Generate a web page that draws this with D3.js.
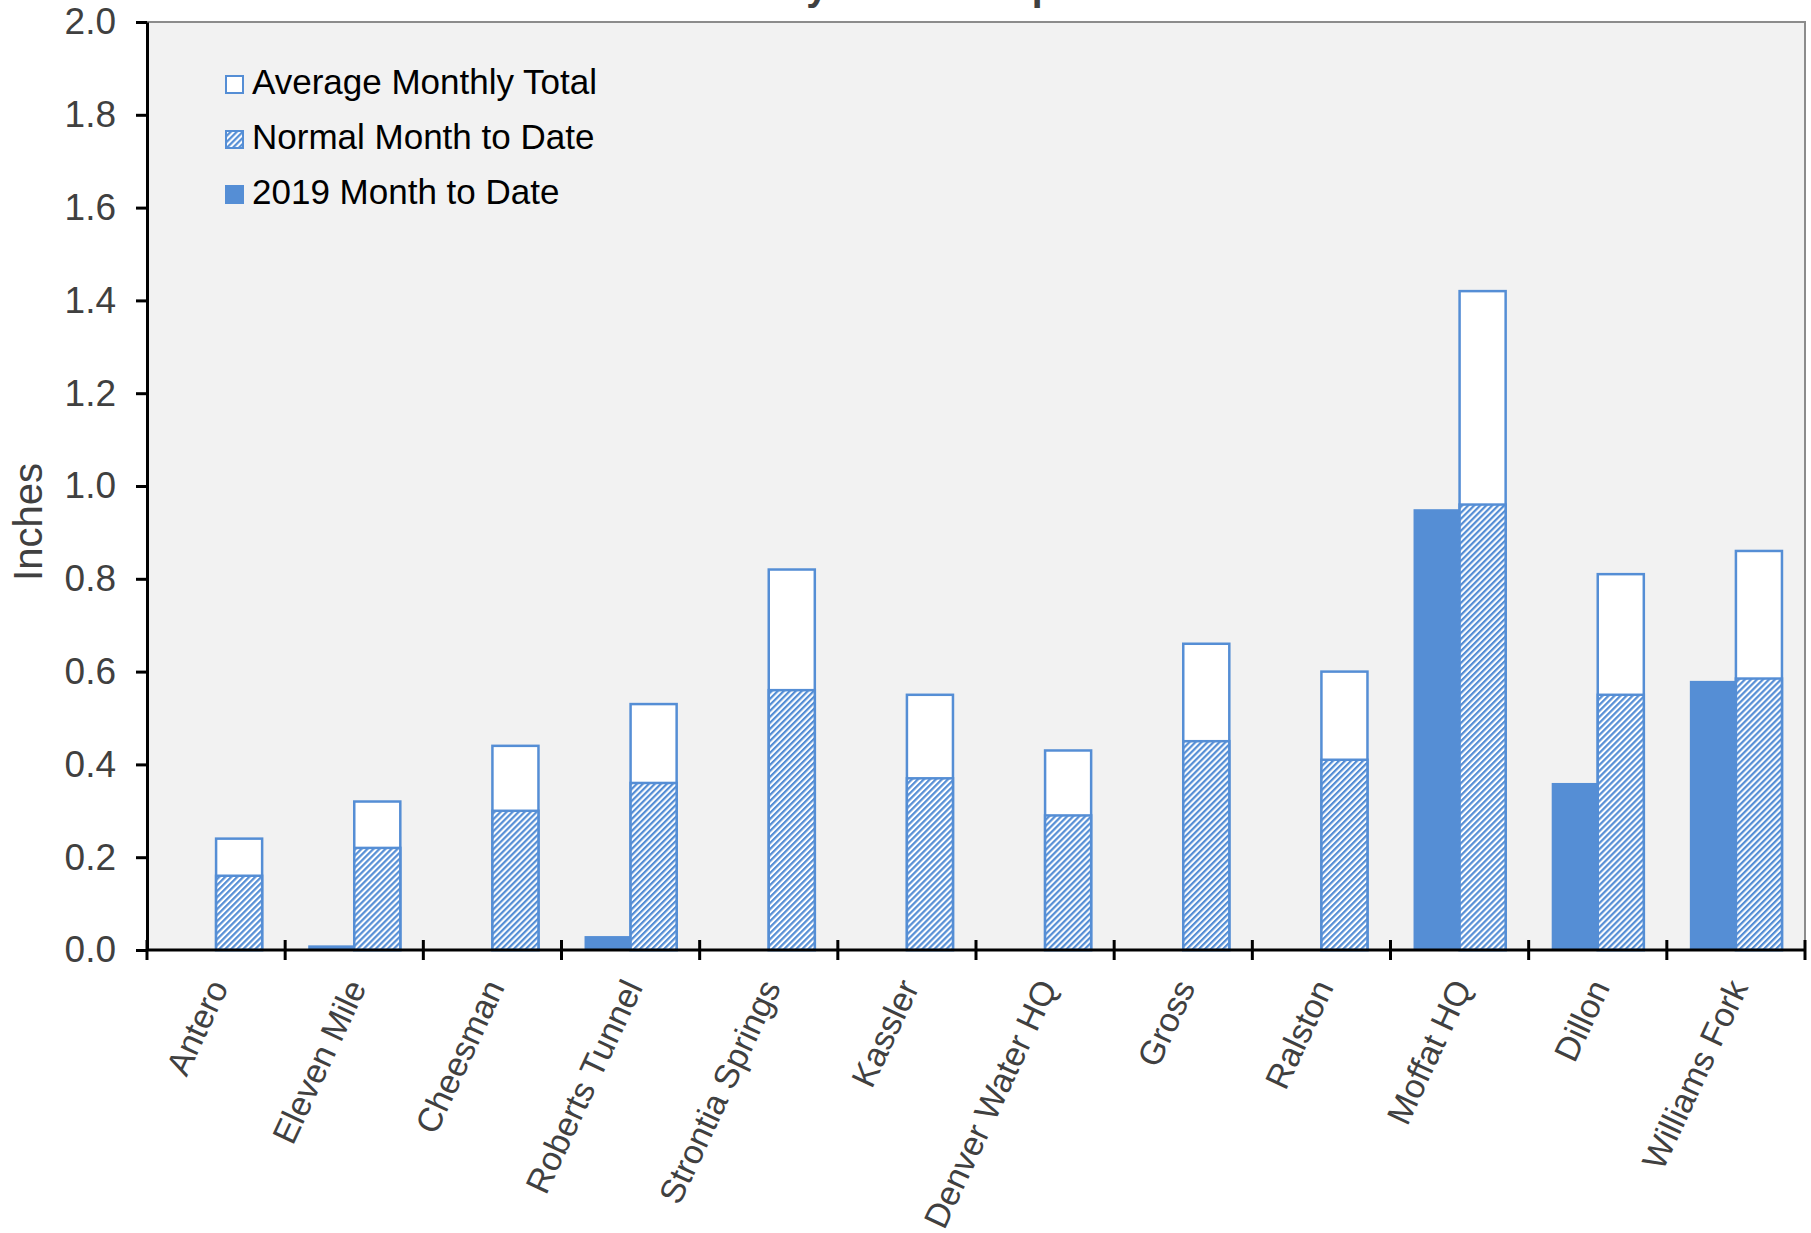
<!DOCTYPE html>
<html>
<head>
<meta charset="utf-8">
<script src="https://cdn.jsdelivr.net/npm/d3@7"></script>
<style>
  body { margin: 0; background: #fff; }
  svg { display: block; font-family: "Liberation Sans", Arial, sans-serif; }
</style>
</head>
<body>
<div id="wrapper"></div>
<script>
const sites = ["Antero", "Eleven Mile", "Cheesman", "Roberts Tunnel", "Strontia Springs", "Kassler",
    "Denver Water HQ", "Gross", "Ralston", "Moffat HQ", "Dillon", "Williams Fork"];
const avgMonthlyTotal = [0.24, 0.32, 0.44, 0.53, 0.82, 0.55, 0.43, 0.66, 0.60, 1.42, 0.81, 0.86];
const normalMonthToDate = [0.16, 0.22, 0.30, 0.36, 0.56, 0.37, 0.29, 0.45, 0.41, 0.96, 0.55, 0.585];
const month2019ToDate = [0, 0.01, 0, 0.03, 0, 0, 0, 0, 0, 0.95, 0.36, 0.58];
const yTicks = [0, 0.2, 0.4, 0.6, 0.8, 1.0, 1.2, 1.4, 1.6, 1.8, 2.0];
const legendLabels = ["Average Monthly Total", "Normal Month to Date", "2019 Month to Date"];

const blue = "#558ed5";
const textGrey = "#404040";

const dimensions = {
    width: 1811,
    height: 1233,
    margin: { top: 22, right: 6, bottom: 283, left: 147 }
};
dimensions.boundedWidth = dimensions.width - dimensions.margin.left - dimensions.margin.right;
dimensions.boundedHeight = dimensions.height - dimensions.margin.top - dimensions.margin.bottom;

const svg = d3.select("#wrapper")
    .append("svg")
    .attr("width", dimensions.width)
    .attr("height", dimensions.height);

// hatch pattern for the normal month-to-date bars
const defs = svg.append("defs");
const hatch = defs.append("pattern")
    .attr("id", "hatch")
    .attr("patternUnits", "userSpaceOnUse")
    .attr("width", 4.25)
    .attr("height", 4.25)
    .attr("patternTransform", "rotate(45)");
hatch.append("rect").attr("width", 4.25).attr("height", 4.25).attr("fill", "#fff");
hatch.append("rect").attr("width", 2.2).attr("height", 4.25).attr("fill", blue);

// title, cut off at the top of the picture (only descenders show)
svg.append("text")
    .attr("x", 752)
    .attr("y", 0)
    .attr("fill", textGrey)
    .style("font-size", "39px")
    .style("font-weight", "bold")
    .text("May 2019 Precipitation");

const bounds = svg.append("g")
    .attr("transform", `translate(${dimensions.margin.left},${dimensions.margin.top})`);

const xScale = d3.scaleBand()
    .domain(sites)
    .range([0, dimensions.boundedWidth])
    .padding(0);

const yScale = d3.scaleLinear()
    .domain([0, 2])
    .range([dimensions.boundedHeight, 0]);

// plot background
bounds.append("rect")
    .attr("width", dimensions.boundedWidth)
    .attr("height", dimensions.boundedHeight)
    .attr("fill", "#f2f2f2")
    .attr("stroke", "#8c8c8c")
    .attr("stroke-width", 2);

const barWidth = xScale.bandwidth() / 3;

// 2019 month to date (solid, left of centre)
bounds.append("g")
    .selectAll("rect")
    .data(sites)
    .join("rect")
    .attr("x", d => xScale(d) + xScale.bandwidth() / 2 - barWidth)
    .attr("y", (d, i) => yScale(month2019ToDate[i]))
    .attr("width", barWidth)
    .attr("height", (d, i) => yScale(0) - yScale(month2019ToDate[i]))
    .attr("fill", blue);

// average monthly total (white, right of centre)
bounds.append("g")
    .selectAll("rect")
    .data(sites)
    .join("rect")
    .attr("x", d => xScale(d) + xScale.bandwidth() / 2)
    .attr("y", (d, i) => yScale(avgMonthlyTotal[i]))
    .attr("width", barWidth)
    .attr("height", (d, i) => yScale(0) - yScale(avgMonthlyTotal[i]))
    .attr("fill", "#fff")
    .attr("stroke", blue)
    .attr("stroke-width", 2.5);

// normal month to date (hatched, in front of the white bar)
bounds.append("g")
    .selectAll("rect")
    .data(sites)
    .join("rect")
    .attr("x", d => xScale(d) + xScale.bandwidth() / 2)
    .attr("y", (d, i) => yScale(normalMonthToDate[i]))
    .attr("width", barWidth)
    .attr("height", (d, i) => yScale(0) - yScale(normalMonthToDate[i]))
    .attr("fill", "url(#hatch)")
    .attr("stroke", blue)
    .attr("stroke-width", 2.5);

// y axis
const yAxis = bounds.append("g")
    .call(d3.axisLeft(yScale)
        .tickValues(yTicks)
        .tickFormat(d3.format(".1f"))
        .tickSize(11)
        .tickSizeOuter(0)
        .tickPadding(20));
yAxis.select(".domain").attr("stroke", "#000").attr("stroke-width", 3);
yAxis.selectAll(".tick line").attr("stroke", "#000").attr("stroke-width", 3);
yAxis.selectAll(".tick text")
    .attr("fill", textGrey)
    .style("font-size", "37px")
    .style("font-family", "'Liberation Sans', Arial, sans-serif");

// x axis with ticks between categories
const xAxis = bounds.append("g")
    .attr("transform", `translate(0,${dimensions.boundedHeight})`);
xAxis.append("line")
    .attr("x1", 0)
    .attr("x2", dimensions.boundedWidth)
    .attr("stroke", "#000")
    .attr("stroke-width", 3);
const boundaries = sites.map(d => xScale(d)).concat([dimensions.boundedWidth]);
xAxis.selectAll(".xtick")
    .data(boundaries)
    .join("line")
    .attr("class", "xtick")
    .attr("x1", d => d)
    .attr("x2", d => d)
    .attr("y1", -10)
    .attr("y2", 10)
    .attr("stroke", "#000")
    .attr("stroke-width", 3);
xAxis.selectAll(".xlabel")
    .data(sites)
    .join("text")
    .attr("class", "xlabel")
    .attr("transform", d => `translate(${xScale(d) + xScale.bandwidth() / 2 + 2},${32}) rotate(-65)`)
    .attr("text-anchor", "end")
    .attr("dy", "0.35em")
    .attr("fill", textGrey)
    .style("font-size", "34px")
    .text(d => d);

// y axis label
svg.append("text")
    .attr("transform", `translate(42,${522}) rotate(-90)`)
    .attr("text-anchor", "middle")
    .attr("fill", textGrey)
    .style("font-size", "40px")
    .text("Inches");

// legend
const legend = svg.append("g")
    .attr("transform", "translate(225,75)");
const legendItems = legend.selectAll("g")
    .data(legendLabels)
    .join("g")
    .attr("transform", (d, i) => `translate(0,${i * 55})`);
legendItems.append("rect")
    .attr("x", 1)
    .attr("y", 1)
    .attr("width", 17)
    .attr("height", 17)
    .attr("fill", (d, i) => ["#fff", "url(#hatch)", blue][i])
    .attr("stroke", blue)
    .attr("stroke-width", 2);
legendItems.append("text")
    .attr("x", 27)
    .attr("y", 19)
    .attr("fill", "#000")
    .style("font-size", "35px")
    .text(d => d);
</script>
</body>
</html>
